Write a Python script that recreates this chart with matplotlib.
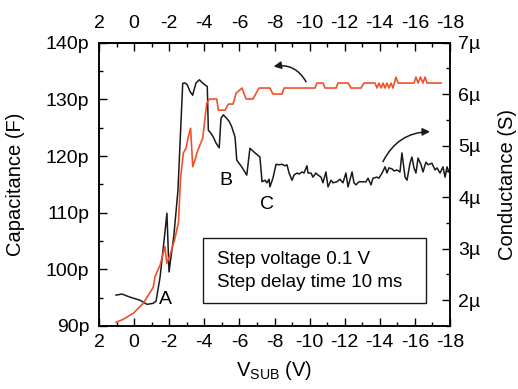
import matplotlib
matplotlib.use("Agg")
import matplotlib.pyplot as plt
from matplotlib.ticker import MultipleLocator, FuncFormatter
from matplotlib.patches import Rectangle

plt.rcParams['font.family'] = ['Liberation Sans', 'DejaVu Sans']
plt.rcParams['axes.unicode_minus'] = False

# ---------------- data ----------------
# Capacitance (pF) vs V_SUB (V)
red_v = [1.03, 0.62, 0.05, -0.52, -1.09, -1.19, -1.48, -1.76, -1.86, -2.05,
         -2.33, -2.53, -2.64, -2.80, -2.96, -3.09, -3.22, -3.34, -3.47, -3.60,
         -3.75, -3.91, -4.04, -4.14, -4.29, -4.71, -4.80, -5.18, -5.37, -5.64,
         -5.81, -6.15, -6.38, -6.77, -7.12, -7.74, -7.91, -8.43, -8.54, -10.31,
         -10.42, -10.76, -10.88, -11.50, -11.62, -12.19, -12.36, -12.93, -13.10, -13.73,
         -13.84, -13.95, -14.07, -14.18, -14.30, -14.41, -14.52, -14.64, -14.75, -14.92,
         -15.04, -15.95, -16.06, -16.18, -16.32, -16.46, -16.58, -16.69, -17.49]
red_c = [90.65, 91.18, 92.24, 94.0, 96.83, 98.7, 100.76, 104.0, 101.06, 102.53,
         105.48, 108.35, 115.76, 120.47, 121.41, 123.4, 124.89, 118.11, 119.29, 120.76,
         121.94, 123.12, 126.65, 129.3, 130.06, 130.06, 128.1, 128.1, 129.17, 129.17,
         131.1, 132.0, 130.06, 130.06, 132.0, 132.0, 130.94, 130.94, 132.0, 132.0,
         132.88, 132.88, 132.0, 132.0, 132.88, 132.88, 132.0, 132.0, 132.88, 132.88,
         132.0, 132.88, 132.0, 132.88, 132.0, 132.88, 132.0, 132.88, 132.0, 133.94,
         132.88, 132.88, 133.94, 132.88, 133.94, 132.88, 133.94, 132.88, 132.88]

# Conductance (uS) vs V_SUB (V)
blk_v = [1.03, 0.69, 0.23, -0.34, -0.74, -1.08, -1.25, -1.48, -1.68, -1.87,
         -1.99, -2.27, -2.50, -2.77, -2.90, -3.03, -3.19, -3.34, -3.41, -3.53,
         -3.72, -3.89, -4.04, -4.17, -4.23, -4.36, -4.51, -4.67, -4.85, -4.95,
         -5.08, -5.28, -5.42, -5.56, -5.75, -5.85, -6.13, -6.42, -6.60, -6.89,
         -7.17, -7.29, -7.46, -7.57, -7.69, -7.74, -7.91, -8.09, -8.26, -8.43,
         -8.60, -8.71, -8.83, -9.00, -9.11, -9.28, -9.40, -9.57, -9.68, -9.85,
         -9.91, -10.08, -10.19, -10.36, -10.48, -10.65, -10.76, -10.93, -11.05, -11.22,
         -11.33, -11.56, -11.73, -11.90, -12.07, -12.19, -12.42, -12.53, -12.64, -12.81,
         -13.04, -13.21, -13.33, -13.50, -13.61, -13.84, -13.95, -14.13, -14.30, -14.41,
         -14.52, -14.70, -14.81, -14.98, -15.15, -15.26, -15.44, -15.55, -15.72, -15.83,
         -15.95, -16.06, -16.18, -16.35, -16.46, -16.63, -16.75, -16.97, -17.15, -17.26,
         -17.43, -17.60, -17.72, -17.83, -17.94]
blk_g = [2.10, 2.12, 2.06, 2.00, 1.92, 1.94, 1.98, 2.45, 3.07, 3.69,
         2.55, 3.27, 4.14, 6.21, 6.22, 6.18, 6.05, 5.98, 6.08, 6.22,
         6.28, 6.22, 6.18, 6.15, 5.30, 5.25, 5.17, 5.05, 4.96, 5.53,
         5.60, 5.53, 5.47, 5.37, 5.17, 4.72, 4.59, 4.43, 4.95, 4.86,
         4.78, 4.30, 4.33, 4.28, 4.35, 4.20, 4.37, 4.64, 4.63, 4.64,
         4.61, 4.63, 4.47, 4.33, 4.43, 4.47, 4.45, 4.49, 4.47, 4.61,
         4.47, 4.47, 4.39, 4.47, 4.43, 4.39, 4.28, 4.49, 4.20, 4.33,
         4.28, 4.30, 4.35, 4.28, 4.47, 4.20, 4.49, 4.28, 4.24, 4.30,
         4.30, 4.30, 4.37, 4.24, 4.37, 4.39, 4.37, 4.47, 4.59, 4.47,
         4.57, 4.55, 4.51, 4.53, 4.49, 4.86, 4.39, 4.33, 4.66, 4.78,
         4.57, 4.47, 4.76, 4.63, 4.49, 4.68, 4.63, 4.66, 4.53, 4.57,
         4.47, 4.59, 4.39, 4.59, 4.49]

x_ticks = [2, 0, -2, -4, -6, -8, -10, -12, -14, -16, -18]
cap_ticks = [90, 100, 110, 120, 130, 140]
cond_ticks = [2, 3, 4, 5, 6, 7]
box_lines = ["Step voltage 0.1 V", "Step delay time 10 ms"]

RED = '#f2502a'
BLK = '#1a1a1a'
FS = 14

fig = plt.figure(figsize=(5.18, 3.89), dpi=100)
ax = fig.add_axes([99/518, 1-326/389, 351/518, 283.3/389])
ax2 = ax.twinx()

ax.plot(red_v, red_c, color=RED, lw=1.2, zorder=3)
ax2.plot(blk_v, blk_g, color=BLK, lw=1.1, zorder=3)

ax.set_xlim(2, -18)
ax.set_ylim(90, 140)
ax2.set_ylim(1.5, 7)

ax.set_xticks(x_ticks)
ax.xaxis.set_minor_locator(MultipleLocator(1))
ax.set_yticks(cap_ticks)
ax.yaxis.set_minor_locator(MultipleLocator(5))
ax.yaxis.set_major_formatter(FuncFormatter(lambda v, p: f"{int(round(v))}p"))
ax2.set_yticks(cond_ticks)
ax2.yaxis.set_minor_locator(MultipleLocator(0.5))
ax2.yaxis.set_major_formatter(FuncFormatter(lambda v, p: f"{int(round(v))}\u00b5"))

ax.tick_params(axis='x', which='both', direction='in', top=False, labelsize=FS, pad=6)
ax.tick_params(axis='x', which='major', length=6, width=1)
ax.tick_params(axis='x', which='minor', length=3, width=1)
ax.tick_params(axis='y', which='both', direction='in', labelsize=FS, pad=7)
ax.tick_params(axis='y', which='major', length=6, width=1)
ax.tick_params(axis='y', which='minor', length=3, width=1)
ax2.tick_params(axis='y', which='both', direction='in', labelsize=FS, pad=6)
ax2.tick_params(axis='y', which='major', length=6, width=1)
ax2.tick_params(axis='y', which='minor', length=3, width=1)

sec = ax.secondary_xaxis('top')
sec.set_xticks(x_ticks)
sec.xaxis.set_minor_locator(MultipleLocator(1))
sec.tick_params(axis='x', which='both', direction='in', labelsize=FS, pad=7.5)
sec.tick_params(axis='x', which='major', length=6, width=1)
sec.tick_params(axis='x', which='minor', length=3, width=1)

for a in (ax, ax2):
    for s in a.spines.values():
        s.set_linewidth(1.1)
for s in sec.spines.values():
    s.set_linewidth(1.1)

ax.set_ylabel("Capacitance (F)", fontsize=14.5)
ax.yaxis.set_label_coords(-0.211, 0.5)
ax2.set_ylabel("Conductance (S)", fontsize=14.5)
ax2.yaxis.set_label_coords(1.137, 0.5)
ax.set_xlabel("V$_\\mathregular{SUB}$ (V)", fontsize=14.5)
ax.xaxis.set_label_coords(0.5, -0.115)

# annotations
ax.text(-1.76, 94.6, "A", fontsize=FS, ha='center', va='center', zorder=5)
ax.text(-5.24, 115.6, "B", fontsize=FS, ha='center', va='center', zorder=5)
ax.text(-7.57, 111.4, "C", fontsize=FS, ha='center', va='center', zorder=5)

ax.annotate("", xy=(-7.95, 135.8), xytext=(-9.8, 133.1),
            arrowprops=dict(arrowstyle='-|>', color=BLK, lw=1.1,
                            mutation_scale=11, shrinkA=0, shrinkB=0,
                            connectionstyle='arc3,rad=0.35'), zorder=5)
ax.annotate("", xy=(-16.86, 124.3), xytext=(-14.18, 119.0),
            arrowprops=dict(arrowstyle='-|>', color=BLK, lw=1.1,
                            mutation_scale=11, shrinkA=0, shrinkB=0,
                            connectionstyle='arc3,rad=-0.3'), zorder=5)

ax.add_patch(Rectangle((0.296, 0.081), 0.636, 0.230, transform=ax.transAxes,
                       fill=True, facecolor='white', edgecolor=BLK, lw=1.0, zorder=6))
ax.text(0.336, 0.236, box_lines[0], transform=ax.transAxes, fontsize=13.5,
        ha='left', va='center', zorder=7)
ax.text(0.336, 0.152, box_lines[1], transform=ax.transAxes, fontsize=13.5,
        ha='left', va='center', zorder=7)

ax.set_zorder(ax2.get_zorder() + 1)
ax.patch.set_visible(False)

fig.savefig("out.png", dpi=100)
